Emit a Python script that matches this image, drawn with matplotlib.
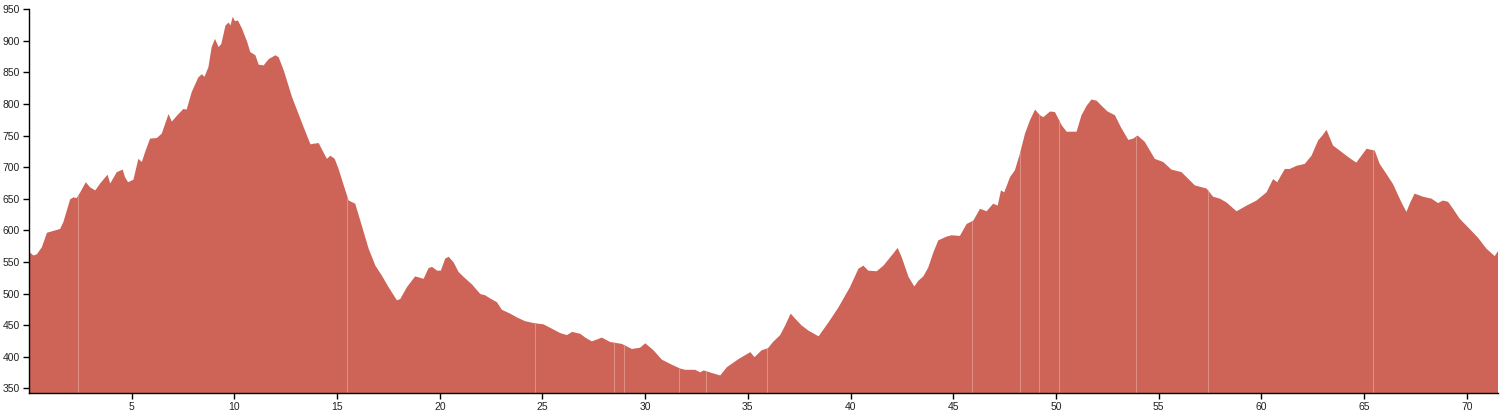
import matplotlib
matplotlib.use('Agg')
import matplotlib.pyplot as plt
import numpy as np

fill_color = '#cd6457'
gap_color = '#e39a90'

# distance (km) and elevation (m)
km = [0.0, 0.2, 0.36, 0.6, 0.85, 1.17, 1.49, 1.65, 1.98, 2.14, 2.3, 2.47, 2.74, 2.95,
      3.2, 3.44, 3.8, 3.93, 4.25, 4.54, 4.65, 4.8, 5.06, 5.3, 5.47, 5.63, 5.87, 6.2,
      6.44, 6.77, 6.93, 7.17, 7.49, 7.65, 7.9, 8.22, 8.39, 8.52, 8.71, 8.87, 9.03, 9.21,
      9.34, 9.54, 9.7, 9.78, 9.9, 10.0, 10.15, 10.35, 10.6, 10.75, 11.0, 11.16, 11.4,
      11.65, 11.97, 12.13, 12.38, 12.78, 13.03, 13.35, 13.68, 13.84, 14.08, 14.27, 14.48,
      14.65, 14.86, 15.05, 15.3, 15.54, 15.86, 16.2, 16.51, 16.84, 17.16, 17.48, 17.89,
      18.05, 18.38, 18.78, 19.19, 19.43, 19.6, 19.84, 20.03, 20.24, 20.41, 20.65, 20.89,
      21.14, 21.55, 21.95, 22.19, 22.43, 22.76, 23.0, 23.4, 23.73, 24.13, 24.54, 25.03,
      25.44, 25.85, 26.17, 26.42, 26.82, 27.06, 27.38, 27.87, 28.27, 28.84, 29.33, 29.73,
      29.98, 30.38, 30.79, 31.28, 31.68, 31.92, 32.41, 32.66, 32.82, 33.22, 33.63, 33.95,
      34.52, 35.1, 35.3, 35.65, 35.95, 36.2, 36.55, 36.79, 37.06, 37.28, 37.6, 37.93,
      38.42, 38.9, 39.39, 39.95, 40.36, 40.6, 40.84, 41.25, 41.58, 41.98, 42.27, 42.47,
      42.8, 43.08, 43.28, 43.52, 43.76, 44.01, 44.25, 44.66, 44.9, 45.3, 45.63, 45.95,
      46.28, 46.6, 46.92, 47.14, 47.3, 47.46, 47.74, 47.98, 48.22, 48.47, 48.71, 48.96,
      49.2, 49.36, 49.69, 49.93, 50.26, 50.5, 50.98, 51.22, 51.47, 51.71, 51.96, 52.2,
      52.49, 52.85, 53.14, 53.5, 53.74, 53.95, 54.3, 54.79, 55.2, 55.6, 56.09, 56.74,
      57.31, 57.63, 57.96, 58.28, 58.77, 59.26, 59.74, 60.23, 60.55, 60.75, 61.12, 61.36,
      61.69, 62.09, 62.42, 62.74, 62.95, 63.15, 63.47, 63.8, 64.2, 64.6, 64.85, 65.1,
      65.5, 65.74, 66.07, 66.39, 66.8, 67.04, 67.23, 67.44, 67.85, 68.26, 68.58, 68.82,
      69.07, 69.31, 69.64, 70.12, 70.53, 70.93, 71.34, 71.5]
elev = [566, 561, 563, 574, 597, 600, 603, 614, 650, 653, 652, 661, 677, 669,
        664, 675, 689, 675, 693, 697, 685, 677, 681, 714, 709, 725, 746, 747,
        754, 785, 773, 782, 793, 792, 820, 843, 848, 844, 859, 891, 904, 891,
        896, 925, 930, 925, 939, 932, 933, 920, 899, 883, 878, 863, 862,
        872, 878, 875, 854, 812, 791, 764, 737, 738, 739, 727, 714,
        719, 714, 698, 672, 648, 643, 606, 572, 545, 529, 511, 490,
        492, 511, 528, 524, 541, 543, 537, 537, 556, 559, 550, 535,
        527, 515, 500, 498, 493, 487, 475, 469, 463, 457, 454, 452,
        445, 438, 435, 440, 437, 431, 425, 431, 424, 421, 413, 415,
        422, 411, 396, 388, 382, 380, 380, 376, 379, 375, 371, 384,
        397, 408, 400, 411, 414, 424, 435, 450, 469, 461, 450, 442,
        433, 455, 479, 511, 540, 545, 537, 536, 545, 561, 573, 558,
        527, 512, 521, 528, 542, 566, 585, 591, 593, 592, 611, 616,
        635, 631, 643, 640, 664, 661, 685, 696, 722, 754, 775, 792,
        783, 780, 789, 788, 767, 757, 757, 783, 798, 808, 806, 798,
        789, 783, 764, 744, 746, 751, 741, 714, 709, 697, 693, 672,
        667, 654, 651, 645, 631, 640, 648, 661, 682, 677, 698, 698,
        703, 706, 719, 743, 751, 760, 735, 727, 717, 708, 719, 730,
        727, 706, 690, 674, 645, 630, 645, 659, 654, 651, 644, 648,
        646, 635, 619, 603, 589, 572, 560, 568]

# small breaks in the track that show up as light lines
gap_km = [2.38, 15.49, 24.64, 28.48, 28.97, 31.64, 32.94, 35.95, 45.9,
          48.24, 49.16, 50.14, 53.9, 57.39, 65.45]

x_ticks = [5, 10, 15, 20, 25, 30, 35, 40, 45, 50, 55, 60, 65, 70]
y_ticks = [350, 400, 450, 500, 550, 600, 650, 700, 750, 800, 850, 900, 950]

ymin = 342

fig = plt.figure(figsize=(15.05, 4.18), dpi=100)
ax = fig.add_axes([29 / 1505, 24.7 / 418, 1468.5 / 1505, 384 / 418])

ax.fill_between(km, elev, ymin, color=fill_color, linewidth=0)
gap_top = np.interp(gap_km, km, elev)
ax.vlines(gap_km, ymin, gap_top, color=gap_color, linewidth=0.8, alpha=0.8)

ax.set_xlim(0, 71.5)
ax.set_ylim(ymin, 950)
ax.set_xticks(x_ticks)
ax.set_yticks(y_ticks)

for side in ['top', 'right']:
    ax.spines[side].set_visible(False)
for side in ['left', 'bottom']:
    ax.spines[side].set_linewidth(1)
    ax.spines[side].set_color('black')

ax.tick_params(axis='both', length=4, width=1, color='black',
               labelsize=7.5, labelcolor='#222222', pad=2.5)
for lab in ax.get_xticklabels() + ax.get_yticklabels():
    lab.set_family('Liberation Sans')

fig.savefig('out.png', dpi=100)
